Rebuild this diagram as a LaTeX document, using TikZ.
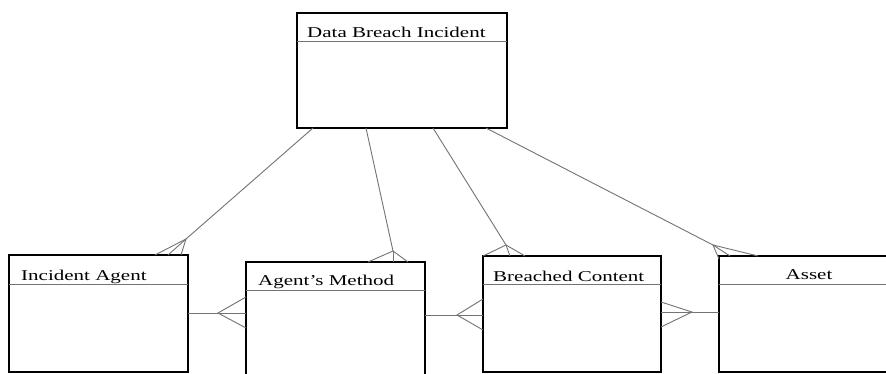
\documentclass[tikz,border=0pt]{standalone}
\usepackage{fontspec}
\setmainfont{Liberation Serif}
\newcommand\wtxt[1]{\scalebox{1.4}[1]{#1}}
\begin{document}
\begin{tikzpicture}[x=1pt,y=-1pt,
  ent/.style={draw=black,line width=2.5pt,anchor=north west,inner sep=0pt,outer sep=0pt},
  sep/.style={draw=black!55,line width=1pt},
  conn/.style={draw=black!55,line width=0.9pt},
  ttl/.style={anchor=base west,inner sep=0pt,font=\fontsize{15}{18}\selectfont}]
\clip (0,0) rectangle (886,374);
\fill[white] (0,0) rectangle (886,374);
% entity boxes
\node[ent,minimum width=210pt,minimum height=115pt] (dbi) at (297,13) {};
\node[ent,minimum width=179pt,minimum height=117pt] (ia) at (9,255) {};
\node[ent,minimum width=179pt,minimum height=130pt] (am) at (246,262) {};
\node[ent,minimum width=178pt,minimum height=116pt] (bc) at (483,256) {};
\node[ent,minimum width=190pt,minimum height=116pt] (as) at (719,256) {};
% separators
\draw[sep] ([yshift=-29pt]dbi.north west) -- ([yshift=-29pt]dbi.north east);
\draw[sep] ([yshift=-29pt]ia.north west) -- ([yshift=-29pt]ia.north east);
\draw[sep] ([yshift=-28pt]am.north west) -- ([yshift=-28pt]am.north east);
\draw[sep] ([yshift=-28pt]bc.north west) -- ([yshift=-28pt]bc.north east);
\draw[sep] ([yshift=-28pt]as.north west) -- ([yshift=-28pt]as.north east);
% titles
\node[ttl] (t1) at (307,38) {\wtxt{Data Breach Incident}};
\node[ttl] (t2) at (21,280) {\wtxt{Incident Agent}};
\node[ttl] (t3) at (258,285) {\wtxt{Agent's Method}};
\node[ttl] (t4) at (493,281) {\wtxt{Breached Content}};
\node[ttl,anchor=base] (t5) at (809,279) {\wtxt{Asset}};
% crow's foot junctions
\coordinate (f1) at (186,239);
\coordinate (f2) at (393,251);
\coordinate (f3) at (506,245);
\coordinate (f4) at (713,245);
\coordinate (f5) at (218,313);
\coordinate (f6) at (457,315);
\coordinate (f7) at (692,312);
% Data Breach Incident -> Incident Agent
\draw[conn] ([xshift=16pt]dbi.south west) -- (f1);
\draw[conn] ([xshift=146pt]ia.north west) -- (f1) -- ([xshift=172pt]ia.north west);
\draw[conn] (f1) -- ([xshift=159pt]ia.north west);
% Data Breach Incident -> Agent's Method
\draw[conn] ([xshift=69pt]dbi.south west) -- (f2);
\draw[conn] ([xshift=122pt]am.north west) -- (f2) -- ([xshift=162pt]am.north west);
\draw[conn] (f2) -- ([xshift=147pt]am.north west);
% Data Breach Incident -> Breached Content
\draw[conn] ([xshift=136pt]dbi.south west) -- (f3);
\draw[conn] (bc.north west) -- (f3) -- ([xshift=42pt]bc.north west);
\draw[conn] (f3) -- ([xshift=27pt]bc.north west);
% Data Breach Incident -> Asset
\draw[conn] ([xshift=189pt]dbi.south west) -- (f4);
\draw[conn] ([yshift=-3pt]as.north west) -- (f4) -- ([xshift=39pt]as.north west);
\draw[conn] (f4) -- ([xshift=11pt]as.north west);
% Incident Agent -> Agent's Method
\draw[conn] (ia.east |- f5) -- (am.west |- f5);
\draw[conn] ([yshift=-35pt]am.north west) -- (f5) -- ([yshift=-66pt]am.north west);
% Agent's Method -> Breached Content
\draw[conn] (am.east |- f6) -- (bc.west |- f6);
\draw[conn] ([yshift=-43pt]bc.north west) -- (f6) -- ([yshift=-74pt]bc.north west);
% Asset -> Breached Content
\draw[conn] (as.west |- f7) -- (bc.east |- f7);
\draw[conn] ([yshift=-46pt]bc.north east) -- (f7) -- ([yshift=-71pt]bc.north east);
\end{tikzpicture}
\end{document}
